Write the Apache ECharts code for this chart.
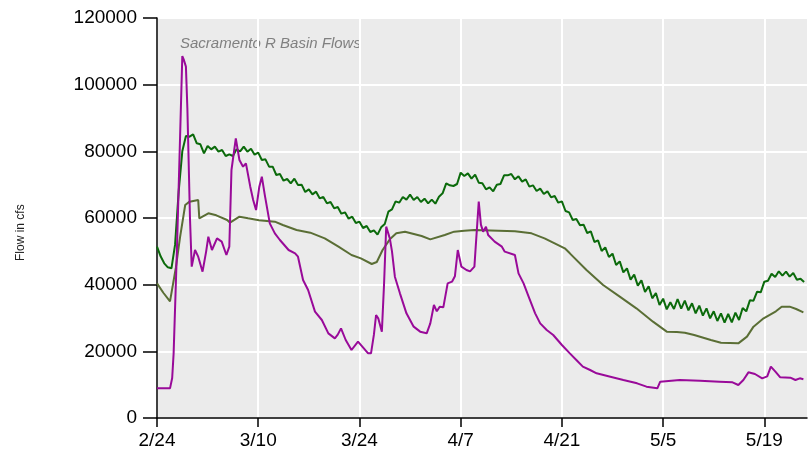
<!DOCTYPE html>
<html>
<head>
<meta charset="utf-8">
<script src="https://cdn.jsdelivr.net/npm/echarts@6/dist/echarts.min.js"></script>
<style>
html,body{margin:0;padding:0;background:#fff;}
#c{width:808px;height:463px;}
</style>
</head>
<body>
<div id="c"></div>
<script>
// Start date of the x axis (day 0 = 2/24)
const startYear = 2017, startMonth = 1, startDay = 24;
const xTickDays = [0, 14, 28, 42, 56, 70, 84];
const yTicks = [0, 20000, 40000, 60000, 80000, 100000, 120000];
const chartTitle = "Sacramento R Basin Flows";
const yAxisTitle = "Flow in cfs";

// Dark green (noisy) series: one value every half day from day 0
const greenStep = 0.5;
const greenFlow = [
51400,48500,46400,45200,44900,52000,68000,80000,84600,84400,
85100,82400,82100,79400,81600,80600,81400,79900,80400,78600,
79100,78600,80600,80000,81400,79900,80800,79000,79600,77400,
77600,75400,75400,72900,73200,71200,71700,70400,71800,69900,
70000,67800,68600,67100,67900,65900,66300,64400,64800,62900,
63300,61300,61700,59800,60400,58500,58900,57000,57600,55800,
56300,55000,57200,58200,61900,62600,65000,64600,66300,65500,
67000,65400,66300,64800,65800,64400,65500,64300,66400,67400,
70400,69800,69600,70200,73600,72600,73400,71800,73000,70600,
70400,68600,69200,68000,70000,70200,72800,72800,73200,71600,
72500,70900,71600,69400,69800,68100,68800,67200,68000,66200,
66600,64600,65000,62100,61700,59400,59700,57800,58000,55500,
56000,52800,53300,50100,51200,48300,49300,45900,47000,43700,
44900,41500,43000,39700,41300,37800,39500,35900,37500,33900,
35800,32600,34700,32700,35700,32800,35200,32300,34400,31400,
33700,30700,32900,29900,32000,29100,31400,28600,31200,28700,
31600,29400,33000,32000,35300,35200,37900,37700,40900,41200,
43300,42300,44000,42700,43900,42400,43500,41500,41800,40800
];

// Olive (smooth) series: [day, flow]
const oliveDays = [0,0.9,1.8,2.0,2.6,3.2,3.9,4.5,5.7,5.85,6.0,7.1,8.2,9.7,10.1,11.4,12.6,14.1,16.3,17.4,19.3,21.2,23.2,25.1,26.9,28.2,29.7,30.4,31.2,32.2,33.1,34.3,36.6,37.8,39.8,41.1,42.5,43.9,49.5,51.8,53.6,55.0,56.4,57.1,59.4,61.7,64.0,66.3,68.6,70.5,71.9,73.0,74.3,76.6,78.0,80.4,81.6,82.5,83.9,85.6,86.4,87.5,88.4,89.4];
const oliveFlow = [40400,37500,35000,34400,45000,54400,63900,64900,65400,59900,60400,61400,60800,59400,58600,60400,59900,59300,58900,57900,56400,55600,53900,51400,48900,47900,46200,46800,50400,53600,55400,55900,54600,53600,54900,55900,56200,56400,56000,55400,53900,52400,50900,49400,44400,39900,36400,32900,28900,25900,25800,25600,24900,23400,22600,22400,24400,27400,29900,32000,33400,33400,32700,31700];

// Purple series: [day, flow]
const purpleDays = [0,1.8,2.1,2.3,2.75,3.2,3.5,3.7,4.0,4.2,4.35,4.56,4.8,5.26,5.7,6.3,6.8,7.1,7.6,8.3,8.95,9.6,10.0,10.3,10.9,11.4,11.9,12.3,12.9,13.3,13.7,14.15,14.5,14.9,15.6,16.3,17.0,18.2,19.1,19.5,20.2,20.9,21.85,22.8,23.7,24.6,25.0,25.45,26.1,26.9,27.8,28.4,29.2,29.6,30.0,30.3,30.6,31.1,31.4,31.7,31.9,32.2,32.5,32.9,33.6,34.5,35.5,36.4,37.3,37.8,38.3,38.7,39.1,39.6,40.2,40.8,41.2,41.6,42.1,42.8,43.3,43.9,44.1,44.5,44.8,45.1,45.5,45.8,46.7,47.7,48.1,49.5,50.0,50.7,51.4,52.3,53.0,53.9,54.8,56.0,57.1,58.0,58.9,59.9,60.8,62.7,64.5,66.4,67.7,69.2,69.6,72.3,75.1,77.8,79.6,80.4,81.1,81.8,82.7,83.7,84.4,84.9,85.5,86.2,87.6,88.3,88.9,89.4];
const purpleFlow = [8900,8900,12000,19400,50000,85000,108600,107500,105400,93000,79500,60000,45400,50400,48400,43900,50000,54400,50400,53900,52900,48900,51400,74400,83900,77400,75400,76400,69400,65400,62400,69400,72400,67000,58400,55400,53400,50400,49400,48400,41400,38400,31900,29400,25400,23900,25000,26900,23400,20400,22900,21400,19400,19400,25000,30900,29900,25900,40000,57400,56000,53900,50000,42400,37400,31400,27400,25900,25400,28400,33900,32000,33400,33200,40400,40900,42500,50400,45400,44400,44000,45400,52000,64900,58000,55900,57400,54900,52900,51400,49900,48900,43400,40400,36400,31400,28400,26400,24900,21900,19400,17400,15400,14400,13400,12400,11400,10400,9400,8900,10900,11400,11200,10900,10700,9900,11400,13700,13200,11900,12500,15400,14000,12200,12100,11400,11900,11600];

function pairs(days, vals){ return days.map((d,i)=>[d, vals[i]]); }
const greenData = greenFlow.map((v,i)=>[i*greenStep, v]);

function dayLabel(v){
  const t = new Date(Date.UTC(startYear, startMonth, startDay) + v*86400000);
  return (t.getUTCMonth()+1) + '/' + t.getUTCDate();
}

const FONT = "'Liberation Sans',Arial,sans-serif";

const chart = echarts.init(document.getElementById('c'), null, {renderer:'canvas'});
chart.setOption({
  animation:false,
  backgroundColor:'#ffffff',
  grid:{left:157, top:18, right:1, bottom:45, show:true, backgroundColor:'#ebebeb', borderWidth:0},
  xAxis:{
    type:'value', min:0, max:89.9, interval:14,
    axisLine:{show:true, onZero:false, lineStyle:{color:'#000', width:1.5}},
    axisTick:{show:true, length:9, lineStyle:{color:'#000', width:1.5}, customValues:xTickDays},
    axisLabel:{color:'#000', fontFamily:FONT, fontSize:19, margin:13, formatter:dayLabel, customValues:xTickDays},
    splitLine:{show:true, lineStyle:{color:'#ffffff', width:2}}
  },
  yAxis:{
    type:'value', min:yTicks[0], max:yTicks[yTicks.length-1], interval:20000,
    axisLine:{show:true, lineStyle:{color:'#000', width:1.5}},
    axisTick:{show:true, length:14, lineStyle:{color:'#000', width:1.5}},
    axisLabel:{color:'#000', fontFamily:FONT, fontSize:19, margin:20, formatter:function(v){return String(v);}},
    splitLine:{show:true, lineStyle:{color:'#ffffff', width:2}}
  },
  graphic:[
    {type:'text', left:180, top:36, style:{text:chartTitle, fill:'#808080', font:"italic 15px " + FONT}},
    {type:'text', x:15, y:261, rotation:Math.PI/2, style:{text:yAxisTitle, fill:'#222', font:"12px " + FONT}}
  ],
  series:[
    {type:'line', name:'olive', data:pairs(oliveDays, oliveFlow), showSymbol:false, lineStyle:{color:'#5a6e35', width:2}, z:2},
    {type:'line', name:'green', data:greenData, showSymbol:false, lineStyle:{color:'#0b6a0b', width:2}, z:3},
    {type:'line', name:'purple', data:pairs(purpleDays, purpleFlow), showSymbol:false, lineStyle:{color:'#990a99', width:2}, z:4}
  ]
});
</script>
</body>
</html>
